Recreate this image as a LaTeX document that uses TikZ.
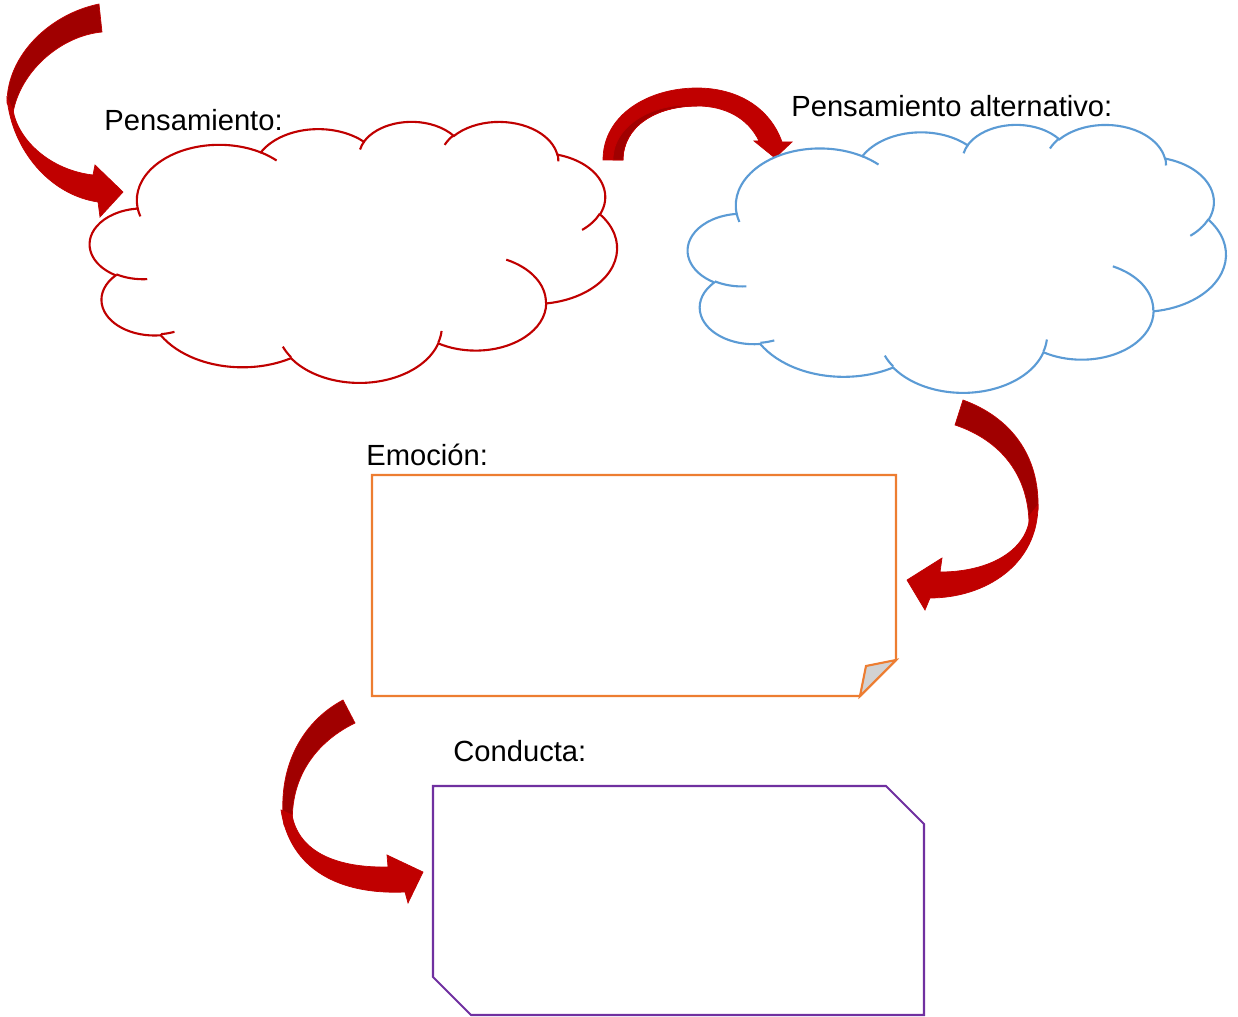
\documentclass[tikz,border=0pt]{standalone}
\usepackage{fontspec}
\setmainfont{Liberation Sans}
\definecolor{arrred}{HTML}{C00000}
\definecolor{arrdark}{HTML}{A00000}
\definecolor{cloudred}{HTML}{C00000}
\definecolor{cloudblue}{HTML}{5B9BD5}
\definecolor{boxorange}{HTML}{ED7D31}
\definecolor{boxpurple}{HTML}{7030A0}
\newcommand\cloudangles[4]{%
  \pgfmathsetmacro\CAtmpa{atan2((#1)*sin(#3),(#2)*cos(#3))}%
  \pgfmathsetmacro\CAtmpb{atan2((#1)*sin((#3)+(#4)),(#2)*cos((#3)+(#4)))}%
  \pgfmathsetmacro\CAtmpd{\CAtmpb-\CAtmpa}%
  \pgfmathsetmacro\CAtmpd{\CAtmpd+360*((#4)>0)*(\CAtmpd<0)-360*((#4)<0)*(\CAtmpd>0)}%
  \global\let\CAs\CAtmpa\global\let\CAd\CAtmpd}
\newcommand\CA[4]{\pgfextra{\cloudangles{#1}{#2}{#3}{#4}} arc[start angle=\CAs, delta angle=\CAd, x radius=#1, y radius=#2]}
\newcommand\cloudbody{(39.00,143.70)
  \CA{67.53}{91.90}{-190.48748}{123.78053}
  \CA{53.33}{72.67}{-144.10238}{89.94523}
  \CA{43.65}{59.45}{-145.80792}{99.72302}
  \CA{48.57}{65.95}{-130.98607}{117.24173}
  \CA{53.33}{72.73}{-78.70888}{109.02692}
  \CA{67.75}{92.20}{-46.26725}{130.269}
  \CA{57.85}{78.67}{0.62502}{114.03333}
  \CA{67.52}{92.15}{22.4516}{115.17255}
  \CA{77.20}{105.43}{66.24263}{75.71102}
  \CA{43.60}{59.18}{-274.94208}{146.73557}
  \CA{43.45}{59.45}{-246.8285}{152.51885} -- cycle}
\newcommand\cloudticks{
  (46.93,261.77) \CA{43.45}{59.45}{86.742}{26.4295}
  (69.28,348.99) \CA{43.60}{59.18}{73.61047}{11.44747}
  (164.78,390.90) \CA{67.52}{92.15}{137.62415}{14.0811}
  (288.27,347.51) \CA{67.52}{92.15}{6.45327}{15.99835}
  (341.29,229.54) \CA{57.85}{78.67}{-70.29235}{70.91737}
  (417.98,153.54) \CA{53.33}{72.73}{30.31803}{27.7515}
  (383.24,54.26) \CA{48.57}{65.95}{-13.74433}{14.8589}
  (290.78,39.52) \CA{48.57}{65.95}{-149.18145}{18.19537}
  (221.41,47.20) \CA{43.65}{59.45}{-163.49427}{17.68635}
  (140.00,51.92) \CA{67.53}{91.90}{-66.70695}{12.31935}
  (41.27,157.89) \CA{67.53}{91.90}{157.65435}{11.85817}}
\tikzset{
  lbl/.style={anchor=base west, inner sep=0pt, font=\fontsize{16.6}{20}\selectfont},
  arrowfront/.style={fill=arrred, draw=arrred, line width=0.4pt, line join=miter},
  arrowback/.style={fill=arrdark, draw=arrred, line width=0.4pt, line join=miter},
  cloudline/.style={line width=1.2pt, fill=white},
}
\begin{document}
\begin{tikzpicture}[x=0.02cm, y=-0.02cm]
\useasboundingbox (0,0) rectangle (1238,1017);

% arrow 1 (top left)
\path[arrowback] (99,4) .. controls (50,14) and (7,55) .. (7,103) -- (13,113) .. controls (20,72) and (60,36) .. (102,32) -- cycle;
\path[arrowfront] (7,98) .. controls (12,150) and (50,195) .. (98,202) -- (100,217) -- (123,192) -- (95,165) -- (93,175) .. controls (50,170) and (18,140) .. (13,110) -- cycle;

% arrow 2 (top middle)
\path[arrowfront] (603,160) .. controls (603,115) and (648,88) .. (697,88) .. controls (738,88) and (770,108) .. (782,142) -- (792,142) -- (775,158) -- (754,141) -- (759,141) .. controls (748,118) and (725,106) .. (697,106) .. controls (655,106) and (623,127) .. (623,160) -- cycle;
\path[arrowback] (623,160) .. controls (623,127) and (655,106) .. (697,106) .. controls (660,101) and (613,122) .. (613,160) -- cycle;

% arrow 3 (right)
\path[arrowback] (963,400) .. controls (1010,417) and (1040,455) .. (1038,510) -- (1029,528) .. controls (1030,475) and (1000,440) .. (955,425) -- cycle;
\path[arrowfront] (1038,505) .. controls (1038,565) and (985,598) .. (930,598) -- (925,610) -- (907,580) -- (942,558) -- (940,572) .. controls (990,572) and (1028,550) .. (1030,515) -- cycle;

% arrow 4 (bottom left)
\path[arrowback] (343,700) .. controls (300,723) and (277,770) .. (284,825) -- (293,832) .. controls (288,785) and (310,745) .. (355,723) -- cycle;
\path[arrowfront] (281,810) .. controls (290,870) and (340,895) .. (405,892) -- (408,903) -- (423,872) -- (387,855) -- (388,867) .. controls (330,868) and (298,848) .. (292,815) -- cycle;

% red cloud
\begin{scope}[shift={(90,121)}, x=0.024398cm, y=-0.012083cm]
  \draw[cloudline, draw=cloudred] \cloudbody;
  \draw[line width=1.2pt, cloudred] \cloudticks;
\end{scope}

% blue cloud
\begin{scope}[shift={(688,124)}, x=0.024907cm, y=-0.012407cm]
  \draw[cloudline, draw=cloudblue] \cloudbody;
  \draw[line width=1.2pt, cloudblue] \cloudticks;
\end{scope}

% Emocion box with folded corner
\draw[boxorange, line width=1.2pt, line join=miter] (372,475) -- (896,475) -- (896,660) -- (860,696) -- (372,696) -- cycle;
\filldraw[fill=gray!35, draw=boxorange, line width=1.2pt, line join=miter] (860,696) -- (866,666) -- (896,660) -- cycle;

% Conducta box with snipped corners
\draw[boxpurple, line width=1.2pt, line join=miter] (433,786) -- (886,786) -- (924,824) -- (924,1015) -- (471,1015) -- (433,977) -- cycle;

% labels
\node[lbl] (pens) at (104,131) {Pensamiento:};
\node[lbl] (alt) at (791,117) {Pensamiento alternativo:};
\node[lbl] (emo) at (366,465) {Emoción:};
\node[lbl] (cond) at (453,761) {Conducta:};
\end{tikzpicture}
\end{document}
